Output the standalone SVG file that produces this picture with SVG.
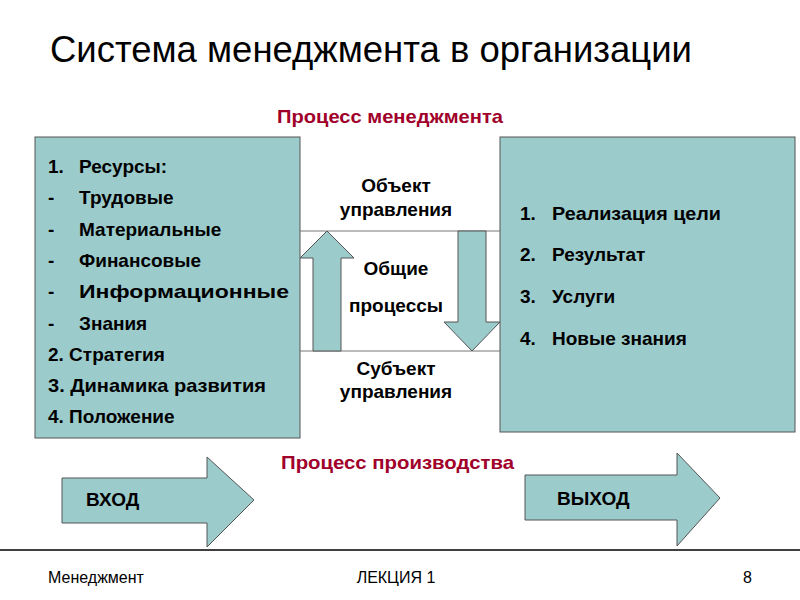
<svg xmlns="http://www.w3.org/2000/svg" width="800" height="600" viewBox="0 0 800 600">
<style>
text{font-family:"Liberation Sans",Arial,sans-serif;fill:#000}
.b{font-weight:bold;font-size:19px}
.box{fill:#9ccbcc;stroke:#555;stroke-width:1}
.red{fill:#a0002a;font-weight:bold;font-size:19px}
.ln{stroke:#777;stroke-width:1}
</style>
<rect width="800" height="600" fill="#fff"/>
<text x="50" y="62" font-size="36" textLength="642" lengthAdjust="spacingAndGlyphs">Система менеджмента в организации</text>
<text class="red" x="277" y="123" textLength="226" lengthAdjust="spacingAndGlyphs">Процесс менеджмента</text>
<text class="red" x="281" y="469" textLength="233" lengthAdjust="spacingAndGlyphs">Процесс производства</text>
<g id="left">
<rect class="box" x="35" y="137" width="265" height="301"/>
<text class="b" x="48" y="173">1.</text><text class="b" x="79" y="173">Ресурсы:</text>
<text class="b" x="48" y="204">-</text><text class="b" x="79" y="204">Трудовые</text>
<text class="b" x="48" y="236">-</text><text class="b" x="79" y="236">Материальные</text>
<text class="b" x="48" y="267">-</text><text class="b" x="79" y="267">Финансовые</text>
<text class="b" x="48" y="298">-</text><text class="b" x="79" y="298" textLength="210" lengthAdjust="spacingAndGlyphs">Информационные</text>
<text class="b" x="48" y="330">-</text><text class="b" x="79" y="330">Знания</text>
<text class="b" x="48" y="361">2. Стратегия</text>
<text class="b" x="48" y="392" textLength="218" lengthAdjust="spacingAndGlyphs">3. Динамика развития</text>
<text class="b" x="48" y="423">4. Положение</text>
</g>
<g id="right">
<rect class="box" x="500" y="137" width="295" height="295"/>
<text class="b" x="520" y="220">1.</text><text class="b" x="552" y="220" textLength="169" lengthAdjust="spacingAndGlyphs">Реализация цели</text>
<text class="b" x="520" y="261">2.</text><text class="b" x="552" y="261">Результат</text>
<text class="b" x="520" y="303">3.</text><text class="b" x="552" y="303">Услуги</text>
<text class="b" x="520" y="345">4.</text><text class="b" x="552" y="345">Новые знания</text>
</g>
<g id="connectors">
<line class="ln" x1="300" y1="231" x2="500" y2="231"/>
<line class="ln" x1="300" y1="351" x2="500" y2="351"/>
<polygon class="box" points="313,351 313,258 300,258 327,231 354,258 341,258 341,351"/>
<polygon class="box" points="458,231 486,231 486,322 500,322 472,351 444,322 458,322"/>
<polygon class="box" points="62,478 207,478 207,457 254,500 207,547 207,523 62,523"/>
<polygon class="box" points="525,475 677,475 677,453 720,498 677,546 677,520 525,520"/>
</g>
<g id="center">
<text class="b" x="396" y="192" text-anchor="middle">Объект</text>
<text class="b" x="396" y="216" text-anchor="middle">управления</text>
<text class="b" x="396" y="275" text-anchor="middle">Общие</text>
<text class="b" x="396" y="312" text-anchor="middle">процессы</text>
<text class="b" x="396" y="375" text-anchor="middle">Субъект</text>
<text class="b" x="396" y="398" text-anchor="middle">управления</text>
<text class="b" x="86" y="506">ВХОД</text>
<text class="b" x="557" y="505">ВЫХОД</text>
</g>
<line x1="0" y1="550" x2="800" y2="550" stroke="#000" stroke-width="1.5"/>
<text x="48" y="583" font-size="16">Менеджмент</text>
<text x="396" y="583" font-size="16" text-anchor="middle">ЛЕКЦИЯ 1</text>
<text x="752" y="583" font-size="16" text-anchor="end">8</text>
</svg>
